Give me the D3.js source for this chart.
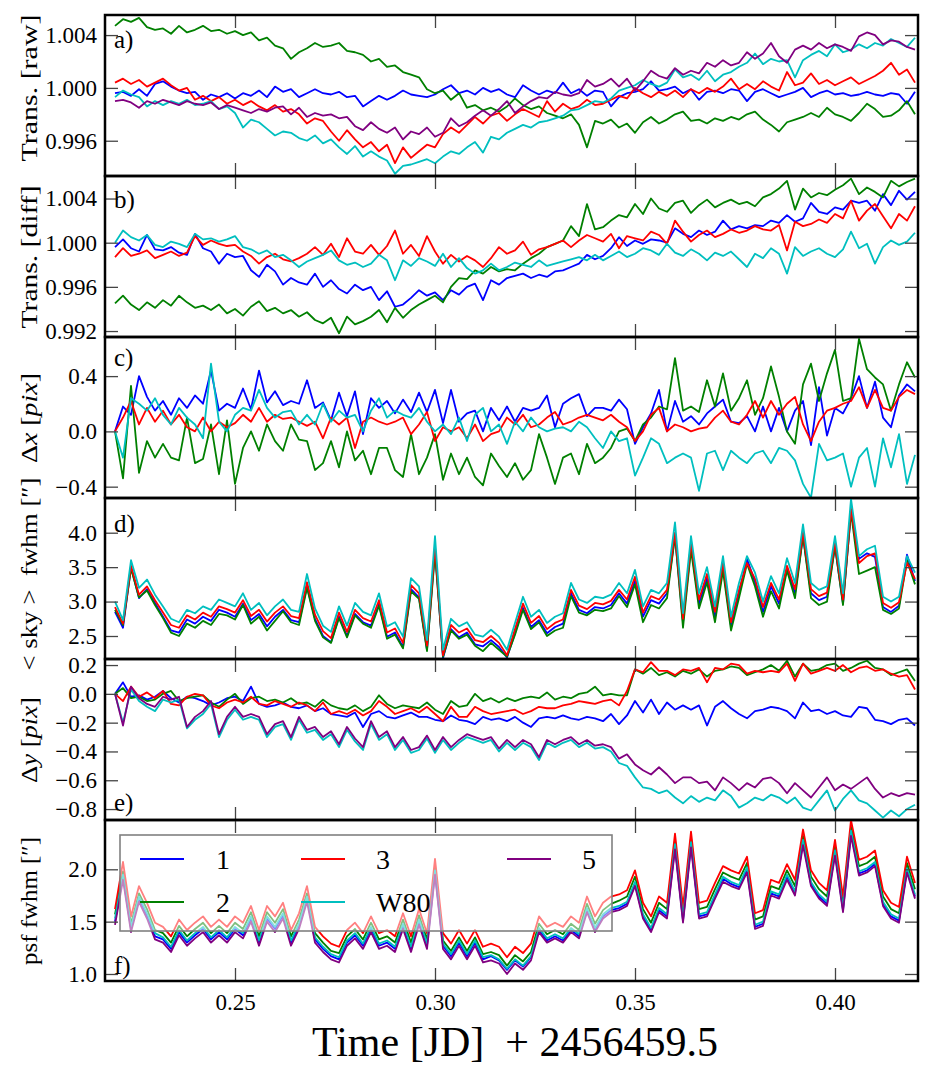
<!DOCTYPE html>
<html><head><meta charset="utf-8">
<script src="https://cdn.jsdelivr.net/npm/d3@7/dist/d3.min.js"></script>
<style>body{margin:0;background:#fff} text{font-family:"Liberation Serif","DejaVu Serif",serif;white-space:pre}</style>
</head><body><svg id="c" width="934" height="1080"></svg>
<script>
// ---------- data ----------
const time = [0.220,0.222,0.224,0.226,0.228,0.230,0.232,0.234,0.236,0.238,
0.240,0.242,0.244,0.246,0.248,0.250,0.252,0.254,0.256,0.258,
0.260,0.262,0.264,0.266,0.268,0.270,0.272,0.274,0.276,0.278,
0.280,0.282,0.284,0.286,0.288,0.290,0.292,0.294,0.296,0.298,
0.300,0.302,0.304,0.306,0.308,0.310,0.312,0.314,0.316,0.318,
0.320,0.322,0.324,0.326,0.328,0.330,0.332,0.334,0.336,0.338,
0.340,0.342,0.344,0.346,0.348,0.350,0.352,0.354,0.356,0.358,
0.360,0.362,0.364,0.366,0.368,0.370,0.372,0.374,0.376,0.378,
0.380,0.382,0.384,0.386,0.388,0.390,0.392,0.394,0.396,0.398,
0.400,0.402,0.404,0.406,0.408,0.410,0.412,0.414,0.416,0.418,
0.420];
const timeDomain = [0.2175, 0.42075];
const timeTicks = [0.25, 0.30, 0.35, 0.40];

// a) Trans. [raw]
const raw1 = [0.9996,0.9997,0.9994,0.9999,0.9994,1.0003,1.0005,1.0001,0.9998,0.9996,
0.9997,0.9991,0.9995,0.9993,0.9996,0.9992,0.9996,0.9994,0.9998,0.9993,
1.0001,0.9997,0.9999,0.9993,0.9996,0.9999,0.9996,0.9995,0.9997,0.9993,
0.9994,0.9986,0.9990,0.9994,0.9991,0.9994,0.9998,0.9995,0.9994,0.9993,
0.9995,0.9999,1.0002,0.9996,0.9998,0.9995,1.0000,0.9997,0.9999,0.9995,
0.9993,1.0002,0.9998,0.9995,0.9998,0.9996,1.0004,0.9996,0.9999,0.9994,
0.9998,0.9997,0.9986,0.9993,0.9996,0.9997,0.9999,1.0005,0.9998,0.9999,
1.0001,0.9996,0.9999,0.9991,0.9997,0.9998,0.9996,0.9999,0.9998,0.9990,
0.9997,0.9999,0.9996,0.9993,0.9995,0.9997,1.0000,0.9993,0.9996,0.9998,
0.9995,0.9996,0.9994,0.9995,0.9997,0.9995,0.9994,0.9996,0.9995,0.9988,
0.9997];
const raw2 = [1.0047,1.0052,1.0050,1.0053,1.0046,1.0044,1.0045,1.0041,1.0047,1.0042,
1.0044,1.0047,1.0043,1.0044,1.0041,1.0043,1.0040,1.0042,1.0036,1.0038,
1.0032,1.0030,1.0022,1.0027,1.0030,1.0034,1.0031,1.0032,1.0034,1.0028,
1.0027,1.0025,1.0020,1.0022,1.0016,1.0017,1.0012,1.0010,1.0008,0.9999,
0.9996,0.9998,0.9991,0.9996,0.9985,0.9987,0.9983,0.9985,0.9982,0.9986,
0.9992,0.9987,0.9984,0.9986,0.9981,0.9979,0.9977,0.9980,0.9972,0.9955,
0.9975,0.9973,0.9976,0.9970,0.9973,0.9966,0.9974,0.9978,0.9973,0.9976,
0.9980,0.9982,0.9975,0.9976,0.9973,0.9977,0.9975,0.9978,0.9976,0.9980,
0.9982,0.9976,0.9972,0.9967,0.9974,0.9976,0.9978,0.9981,0.9978,0.9985,
0.9980,0.9978,0.9975,0.9981,0.9988,0.9984,0.9978,0.9979,0.9983,0.9990,
0.9980];
const raw3 = [1.0004,1.0007,1.0003,1.0006,1.0001,1.0004,1.0007,1.0002,0.9998,1.0000,
0.9991,0.9994,0.9990,0.9993,0.9988,0.9991,0.9987,0.9990,0.9986,0.9983,
0.9987,0.9982,0.9984,0.9980,0.9973,0.9977,0.9975,0.9967,0.9960,0.9968,
0.9961,0.9955,0.9959,0.9952,0.9957,0.9943,0.9955,0.9947,0.9952,0.9957,
0.9955,0.9965,0.9970,0.9966,0.9972,0.9978,0.9973,0.9979,0.9981,0.9975,
0.9980,0.9984,0.9981,0.9978,0.9990,0.9982,0.9988,0.9984,0.9986,0.9991,
0.9987,0.9988,0.9991,0.9994,0.9992,1.0000,0.9996,0.9993,0.9997,0.9994,
0.9998,0.9993,0.9999,0.9996,1.0000,0.9997,1.0001,1.0007,0.9999,1.0003,
0.9999,1.0005,1.0001,0.9998,1.0012,1.0002,1.0004,1.0011,1.0003,1.0006,
1.0002,1.0005,1.0008,1.0003,1.0006,1.0009,1.0013,1.0019,1.0010,1.0014,
1.0004];
const raw5 = [0.9990,0.9991,0.9989,0.9985,0.9990,0.9988,0.9991,0.9989,0.9987,0.9990,
0.9988,0.9987,0.9989,0.9984,0.9987,0.9985,0.9983,0.9981,0.9984,0.9982,
0.9985,0.9986,0.9980,0.9985,0.9978,0.9981,0.9979,0.9980,0.9977,0.9978,
0.9971,0.9968,0.9974,0.9969,0.9966,0.9970,0.9961,0.9967,0.9965,0.9970,
0.9963,0.9966,0.9977,0.9971,0.9974,0.9979,0.9983,0.9979,0.9984,0.9990,
0.9981,0.9986,0.9990,0.9993,0.9992,0.9997,0.9995,0.9994,0.9996,1.0006,
1.0001,1.0003,1.0007,1.0001,1.0007,0.9998,1.0005,1.0013,1.0009,1.0007,
1.0015,1.0010,1.0013,1.0011,1.0019,1.0016,1.0021,1.0017,1.0019,1.0027,
1.0022,1.0026,1.0034,1.0024,1.0019,1.0029,1.0032,1.0029,1.0034,1.0030,
1.0033,1.0031,1.0028,1.0039,1.0042,1.0040,1.0033,1.0036,1.0035,1.0031,
1.0029];
const rawW80 = [0.9993,0.9998,0.9995,0.9993,0.9986,0.9990,0.9987,0.9990,0.9988,0.9991,
0.9987,0.9988,0.9990,0.9984,0.9986,0.9981,0.9970,0.9976,0.9974,0.9969,
0.9964,0.9967,0.9966,0.9962,0.9960,0.9964,0.9958,0.9961,0.9955,0.9950,
0.9956,0.9948,0.9952,0.9948,0.9945,0.9935,0.9941,0.9942,0.9944,0.9946,
0.9943,0.9948,0.9952,0.9950,0.9955,0.9959,0.9951,0.9963,0.9961,0.9966,
0.9969,0.9972,0.9970,0.9974,0.9975,0.9977,0.9979,0.9983,0.9984,0.9987,
0.9990,0.9989,0.9992,0.9998,1.0000,1.0002,1.0006,1.0003,1.0001,1.0004,
1.0014,1.0008,1.0010,1.0006,1.0013,1.0005,1.0010,1.0012,1.0016,1.0019,
1.0026,1.0018,1.0022,1.0020,1.0021,1.0008,1.0021,1.0025,1.0028,1.0024,
1.0033,1.0027,1.0029,1.0033,1.0030,1.0034,1.0032,1.0037,1.0034,1.0031,
1.0038];

// b) Trans. [diff]
const diff1 = [0.9996,1.0003,0.9995,0.9992,1.0007,0.9994,0.9993,0.9996,0.9991,0.9989,
1.0008,0.9995,0.9992,0.9981,0.9990,0.9987,0.9988,0.9975,0.9969,0.9980,
0.9974,0.9962,0.9968,0.9964,0.9962,0.9972,0.9960,0.9966,0.9958,0.9954,
0.9962,0.9957,0.9960,0.9948,0.9956,0.9942,0.9944,0.9950,0.9957,0.9952,
0.9955,0.9948,0.9957,0.9953,0.9960,0.9963,0.9948,0.9966,0.9962,0.9968,
0.9970,0.9972,0.9968,0.9971,0.9969,0.9974,0.9975,0.9978,0.9981,0.9989,
0.9985,0.9988,0.9995,1.0005,0.9997,1.0002,0.9999,1.0003,1.0002,1.0000,
1.0013,1.0008,1.0005,1.0011,1.0007,1.0010,1.0020,1.0012,1.0015,1.0013,
1.0016,1.0015,1.0020,1.0018,1.0025,1.0019,1.0022,1.0036,1.0028,1.0026,
1.0032,1.0030,1.0038,1.0036,1.0038,1.0029,1.0044,1.0034,1.0047,1.0039,
1.0046];
const diff2 = [0.9945,0.9952,0.9944,0.9939,0.9946,0.9941,0.9948,0.9943,0.9952,0.9946,
0.9941,0.9943,0.9939,0.9944,0.9936,0.9940,0.9934,0.9942,0.9947,0.9938,
0.9941,0.9936,0.9939,0.9933,0.9937,0.9930,0.9927,0.9932,0.9918,0.9933,
0.9926,0.9929,0.9933,0.9939,0.9928,0.9941,0.9932,0.9939,0.9944,0.9948,
0.9952,0.9946,0.9960,0.9968,0.9967,0.9975,0.9972,0.9978,0.9974,0.9976,
0.9975,0.9981,0.9986,0.9990,0.9996,0.9999,1.0002,1.0015,1.0006,1.0035,
1.0012,1.0014,1.0020,1.0025,1.0023,1.0035,1.0026,1.0040,1.0031,1.0028,
1.0036,1.0038,1.0027,1.0034,1.0039,1.0032,1.0036,1.0039,1.0035,1.0037,
1.0033,1.0041,1.0044,1.0049,1.0056,1.0030,1.0049,1.0041,1.0045,1.0043,
1.0048,1.0052,1.0058,1.0044,1.0050,1.0046,1.0041,1.0056,1.0051,1.0055,
1.0058];
const diff3 = [0.9987,0.9995,0.9988,0.9990,0.9993,0.9986,0.9989,0.9992,0.9988,0.9991,
1.0006,0.9998,1.0002,0.9999,0.9997,0.9998,0.9992,0.9988,0.9981,0.9987,
0.9990,0.9985,0.9983,0.9986,0.9990,0.9996,0.9989,0.9999,0.9987,1.0004,
0.9992,0.9990,0.9998,0.9989,0.9997,1.0011,0.9990,0.9998,0.9988,1.0006,
0.9992,0.9981,0.9989,0.9983,0.9988,0.9984,0.9978,0.9986,0.9996,0.9990,
0.9993,1.0001,0.9989,0.9994,0.9996,0.9999,1.0002,0.9996,1.0002,1.0007,
1.0004,1.0001,1.0008,0.9995,1.0006,1.0004,1.0002,1.0010,1.0007,0.9999,
1.0020,1.0010,1.0001,1.0007,1.0011,1.0005,1.0008,1.0012,1.0009,1.0011,
1.0015,1.0012,1.0011,1.0016,0.9993,1.0019,1.0015,1.0017,1.0021,1.0018,
1.0026,1.0022,1.0038,1.0020,1.0029,1.0035,1.0024,1.0013,1.0026,1.0020,
1.0033];
const diffW80 = [1.0000,1.0011,1.0005,1.0002,1.0007,0.9998,0.9996,1.0001,0.9999,0.9996,
1.0008,1.0003,1.0004,1.0001,1.0003,1.0006,0.9996,0.9994,0.9990,0.9993,
0.9987,0.9989,0.9984,0.9978,0.9983,0.9986,0.9989,0.9993,0.9984,0.9980,
0.9982,0.9978,0.9981,0.9989,0.9984,0.9966,0.9984,0.9979,0.9986,0.9983,
0.9979,0.9990,0.9978,0.9986,0.9977,0.9972,0.9975,0.9981,0.9975,0.9978,
0.9982,0.9980,0.9978,0.9984,0.9979,0.9981,0.9983,0.9985,0.9987,0.9984,
0.9989,0.9984,0.9988,0.9992,0.9987,0.9990,0.9995,0.9993,0.9989,0.9999,
0.9991,0.9988,0.9994,0.9990,0.9984,0.9991,0.9988,0.9992,0.9985,0.9978,
0.9990,0.9986,0.9995,0.9990,0.9972,0.9996,0.9988,0.9992,0.9995,0.9990,
0.9987,0.9994,1.0010,0.9995,0.9999,0.9981,0.9996,1.0002,0.9998,1.0001,
1.0009];

// c) Delta x [pix]
const dx1 = [0.00,0.18,0.12,0.40,0.25,0.15,0.22,0.12,0.24,0.17,
0.26,0.20,0.44,0.15,0.20,0.17,0.31,0.16,0.44,0.21,
0.29,0.19,0.22,0.20,0.37,0.17,0.21,0.08,0.28,0.11,
0.29,-0.02,0.24,0.17,0.22,0.13,0.23,0.14,0.28,0.14,
0.30,0.06,0.30,0.07,0.13,0.15,0.00,0.17,0.08,0.18,
0.07,0.17,0.15,0.17,0.26,0.03,0.20,0.24,0.27,0.11,
0.17,0.17,0.15,0.23,0.16,-0.09,0.03,0.13,0.30,0.00,
0.22,0.07,0.11,0.05,0.13,0.18,0.23,0.07,0.06,0.11,
0.00,0.18,0.00,0.17,0.00,0.15,0.22,-0.10,0.32,-0.03,
0.17,0.13,0.24,0.40,0.17,0.36,0.10,0.03,0.26,0.34,
0.29];
const dx2 = [0.00,-0.34,0.33,-0.30,-0.07,-0.19,-0.09,-0.19,-0.21,0.10,
-0.23,-0.20,0.05,-0.31,0.08,-0.38,-0.12,0.00,-0.14,0.05,
-0.07,-0.14,0.05,-0.06,-0.07,-0.28,-0.23,-0.07,-0.26,0.00,
-0.21,-0.14,-0.31,-0.12,-0.12,-0.28,-0.33,-0.02,-0.31,-0.19,
-0.02,-0.35,-0.16,-0.31,-0.19,-0.33,-0.39,-0.16,-0.25,-0.33,
-0.23,-0.35,-0.28,-0.02,-0.19,-0.38,-0.19,-0.16,-0.31,-0.09,
-0.23,-0.19,-0.12,0.00,0.02,-0.07,0.05,0.10,0.18,0.16,
0.53,0.15,0.18,0.14,0.37,0.18,0.42,0.15,0.24,0.37,
0.12,0.24,0.47,0.25,0.00,-0.09,0.34,0.49,0.22,0.42,
0.59,0.22,0.24,0.67,0.45,0.39,0.34,0.15,0.34,0.50,
0.39];
const dx3 = [0.00,0.10,0.22,0.05,0.17,0.07,0.15,0.05,0.12,0.03,
0.00,0.10,0.00,0.07,0.03,0.06,0.12,0.07,0.17,0.07,
0.12,0.09,0.10,0.07,0.04,0.07,-0.05,0.10,0.05,0.10,
-0.12,0.07,0.10,0.07,0.05,0.07,0.10,-0.02,0.05,0.14,
-0.07,0.03,0.00,0.03,-0.05,0.05,-0.07,-0.02,0.00,0.10,
0.05,0.12,0.03,0.05,0.10,0.14,0.05,0.07,0.10,0.12,
0.10,0.08,0.12,0.07,0.03,-0.07,0.00,0.12,0.17,0.00,
0.05,0.03,0.00,0.02,0.03,0.10,0.15,0.07,0.05,0.12,
0.22,0.10,0.22,0.12,0.20,0.25,0.05,-0.07,0.07,0.15,
0.17,0.20,0.22,0.32,0.17,0.30,0.17,0.15,0.25,0.30,
0.27];
const dxW80 = [0.00,-0.19,0.24,0.20,0.15,0.24,0.12,0.05,0.17,0.10,
0.05,-0.05,0.49,0.07,0.00,0.12,0.17,0.15,0.30,0.17,
0.10,0.14,0.15,0.05,0.12,0.05,0.20,0.07,0.15,0.10,
0.12,0.00,0.15,0.24,0.10,0.15,0.12,0.10,0.17,0.07,
0.00,0.05,-0.02,0.10,-0.07,0.12,0.17,0.00,0.05,-0.09,
0.07,0.00,0.10,0.03,0.00,0.02,0.03,0.00,0.07,0.03,
-0.05,-0.12,0.00,-0.07,-0.05,-0.32,-0.19,-0.05,-0.09,-0.23,
-0.19,-0.16,-0.19,-0.43,-0.16,-0.14,-0.28,-0.14,-0.19,-0.23,
-0.16,-0.14,-0.23,-0.12,-0.14,-0.21,-0.38,-0.48,-0.09,-0.21,
-0.19,-0.16,-0.40,-0.19,-0.12,-0.40,-0.05,-0.26,-0.02,-0.38,
-0.17];

// d) <sky> fwhm
const sky1 = [2.85,2.62,3.50,3.05,3.18,2.98,2.78,2.58,2.55,2.74,
2.68,2.78,2.72,2.88,2.84,2.78,2.97,2.73,2.82,2.64,
2.78,2.88,2.73,2.70,3.22,2.75,2.50,2.41,2.78,2.50,
2.82,2.70,2.65,2.96,2.49,2.55,2.34,3.18,3.06,2.30,
3.75,2.18,2.60,2.48,2.55,2.38,2.35,2.44,2.34,2.19,
2.54,2.91,2.63,2.73,2.54,2.63,2.68,3.12,2.88,2.83,
2.92,2.90,2.95,3.12,2.97,3.30,2.78,3.02,2.97,3.12,
3.95,2.70,3.80,2.97,3.34,2.78,3.50,2.64,3.12,3.62,
3.28,2.85,3.22,2.97,3.48,3.12,3.95,3.12,3.02,3.07,
3.80,2.97,4.30,3.62,3.70,3.65,2.92,2.85,2.94,3.68,
3.30];
const sky2 = [2.88,2.66,3.48,3.06,3.16,2.95,2.76,2.55,2.50,2.68,
2.62,2.72,2.66,2.82,2.80,2.74,2.95,2.68,2.78,2.58,
2.72,2.86,2.70,2.66,3.20,2.72,2.48,2.40,2.76,2.48,
2.80,2.68,2.62,2.94,2.46,2.52,2.32,3.15,3.04,2.28,
3.70,2.20,2.58,2.46,2.52,2.36,2.28,2.40,2.30,2.20,
2.52,2.88,2.60,2.70,2.50,2.58,2.62,3.08,2.84,2.80,
2.88,2.86,2.90,3.08,2.92,3.25,2.70,2.95,2.90,3.05,
3.95,2.62,3.75,2.90,3.28,2.70,3.45,2.58,3.05,3.55,
3.22,2.78,3.15,2.90,3.45,3.05,3.95,3.05,2.95,3.00,
3.80,2.95,4.30,3.40,3.45,3.50,2.88,2.82,2.90,3.60,
3.25];
const sky3 = [2.92,2.68,3.52,3.10,3.22,3.02,2.84,2.66,2.62,2.80,
2.74,2.84,2.78,2.93,2.89,2.84,3.02,2.79,2.88,2.71,
2.84,2.93,2.79,2.76,3.28,2.81,2.57,2.47,2.84,2.56,
2.88,2.76,2.71,3.02,2.55,2.61,2.40,3.24,3.12,2.36,
3.80,2.22,2.66,2.55,2.61,2.44,2.41,2.50,2.40,2.22,
2.60,2.97,2.69,2.79,2.60,2.69,2.74,3.17,2.94,2.89,
2.98,2.96,3.01,3.17,3.03,3.36,2.84,3.08,3.03,3.17,
4.00,2.75,3.85,3.03,3.40,2.85,3.56,2.70,3.17,3.56,
3.33,2.92,3.27,3.03,3.52,3.18,4.00,3.18,3.08,3.13,
3.85,3.03,4.35,3.56,3.66,3.70,2.98,2.91,2.99,3.56,
3.33];
const skyW80 = [3.00,2.73,3.60,3.20,3.32,3.10,2.93,2.75,2.70,2.88,
2.83,2.93,2.88,3.03,2.98,2.93,3.12,2.88,2.98,2.80,
2.93,3.03,2.88,2.85,3.40,2.90,2.65,2.56,2.93,2.65,
2.98,2.85,2.80,3.12,2.64,2.70,2.49,3.34,3.22,2.44,
3.95,2.30,2.75,2.64,2.70,2.52,2.49,2.59,2.49,2.30,
2.69,3.07,2.78,2.88,2.69,2.78,2.83,3.27,3.03,2.98,
3.07,3.05,3.10,3.27,3.12,3.46,2.93,3.17,3.12,3.27,
4.15,2.83,3.95,3.12,3.50,2.93,3.66,2.78,3.27,3.66,
3.42,3.00,3.37,3.12,3.63,3.27,4.12,3.27,3.17,3.22,
3.95,3.12,4.49,3.66,3.76,3.81,3.07,3.00,3.07,3.66,
3.42];

// e) Delta y [pix]
const dy1 = [0.00,0.08,-0.02,-0.01,-0.04,-0.02,0.02,-0.03,-0.06,-0.02,
-0.03,-0.05,-0.08,-0.06,-0.03,-0.02,-0.05,0.05,-0.07,-0.09,
-0.08,-0.06,-0.09,-0.10,-0.08,-0.12,-0.10,-0.14,-0.15,-0.16,
-0.13,-0.23,-0.14,-0.12,-0.16,-0.17,-0.15,-0.13,-0.16,-0.16,
-0.18,-0.19,-0.15,-0.18,-0.19,-0.21,-0.16,-0.18,-0.17,-0.19,
-0.16,-0.20,-0.23,-0.17,-0.16,-0.17,-0.15,-0.17,-0.18,-0.16,
-0.17,-0.19,-0.14,-0.21,-0.15,-0.05,-0.13,-0.04,-0.14,-0.06,
-0.11,-0.08,-0.11,-0.08,-0.22,-0.09,-0.05,-0.10,-0.14,-0.17,
-0.12,-0.11,-0.09,-0.10,-0.12,-0.17,-0.06,-0.12,-0.11,-0.14,
-0.12,-0.15,-0.16,-0.09,-0.10,-0.18,-0.19,-0.21,-0.18,-0.17,
-0.22];
const dy2 = [0.00,0.04,-0.03,-0.02,-0.05,-0.04,0.00,0.02,-0.05,-0.03,
-0.02,-0.01,-0.06,-0.09,-0.04,0.00,-0.07,-0.03,-0.02,-0.05,
-0.04,-0.06,-0.03,-0.07,-0.06,-0.09,-0.04,-0.08,-0.10,-0.11,
-0.08,-0.12,-0.09,-0.01,-0.07,-0.10,-0.08,-0.09,-0.10,-0.06,
-0.11,-0.14,-0.05,-0.09,-0.08,0.00,-0.05,-0.03,-0.06,-0.03,
-0.05,-0.03,-0.02,-0.03,0.01,-0.04,-0.02,-0.03,0.00,0.01,
0.05,-0.01,0.00,-0.01,-0.01,0.17,0.14,0.18,0.13,0.15,
0.12,0.16,0.14,0.17,0.12,0.16,0.17,0.19,0.18,0.13,
0.15,0.17,0.20,0.16,0.23,0.12,0.21,0.16,0.17,0.20,
0.21,0.16,0.18,0.21,0.23,0.18,0.17,0.13,0.15,0.17,
0.09];
const dy3 = [0.00,-0.05,0.05,-0.02,0.01,-0.03,0.02,-0.07,-0.08,-0.02,
0.00,-0.01,-0.08,-0.10,-0.06,-0.04,-0.06,-0.02,-0.07,-0.08,
-0.05,-0.07,-0.09,-0.06,-0.08,-0.12,-0.06,-0.14,-0.12,-0.14,
-0.11,-0.15,-0.12,-0.05,-0.09,-0.14,-0.12,-0.10,-0.13,-0.09,
-0.14,-0.19,-0.09,-0.16,-0.16,-0.09,-0.12,-0.14,-0.13,-0.12,
-0.11,-0.14,-0.12,-0.09,-0.10,-0.10,-0.08,-0.07,-0.05,-0.06,
-0.07,-0.05,-0.04,-0.08,0.02,0.17,0.15,0.22,0.16,0.16,
0.13,0.17,0.16,0.18,0.08,0.18,0.17,0.21,0.20,0.14,
0.16,0.15,0.16,0.15,0.21,0.09,0.21,0.14,0.16,0.18,
0.16,0.20,0.15,0.18,0.19,0.16,0.17,0.14,0.12,0.13,
0.03];
const dy5 = [0.00,-0.22,0.05,-0.03,-0.07,-0.09,-0.02,-0.04,-0.02,-0.23,
-0.16,-0.12,-0.05,-0.28,-0.16,-0.09,-0.16,-0.14,-0.16,-0.28,
-0.21,-0.19,-0.30,-0.16,-0.25,-0.23,-0.30,-0.26,-0.35,-0.23,
-0.31,-0.37,-0.19,-0.30,-0.26,-0.37,-0.30,-0.39,-0.37,-0.29,
-0.39,-0.30,-0.37,-0.32,-0.28,-0.30,-0.32,-0.30,-0.38,-0.32,
-0.37,-0.32,-0.35,-0.44,-0.32,-0.35,-0.32,-0.30,-0.35,-0.32,
-0.36,-0.35,-0.37,-0.45,-0.42,-0.49,-0.53,-0.56,-0.51,-0.56,
-0.62,-0.58,-0.58,-0.62,-0.61,-0.67,-0.58,-0.62,-0.67,-0.62,
-0.65,-0.59,-0.58,-0.62,-0.69,-0.62,-0.67,-0.72,-0.65,-0.58,
-0.67,-0.63,-0.66,-0.62,-0.58,-0.66,-0.72,-0.69,-0.71,-0.69,
-0.70];
const dyW80 = [0.00,-0.20,0.03,-0.05,-0.09,-0.12,-0.04,-0.06,-0.04,-0.24,
-0.18,-0.14,-0.07,-0.30,-0.18,-0.11,-0.18,-0.16,-0.18,-0.30,
-0.23,-0.21,-0.32,-0.18,-0.27,-0.25,-0.32,-0.28,-0.37,-0.25,
-0.33,-0.39,-0.21,-0.32,-0.28,-0.39,-0.32,-0.41,-0.39,-0.31,
-0.41,-0.32,-0.39,-0.34,-0.30,-0.32,-0.34,-0.32,-0.40,-0.34,
-0.39,-0.34,-0.37,-0.46,-0.34,-0.37,-0.34,-0.32,-0.37,-0.34,
-0.38,-0.37,-0.40,-0.48,-0.50,-0.58,-0.65,-0.66,-0.69,-0.67,
-0.72,-0.76,-0.71,-0.75,-0.72,-0.74,-0.67,-0.71,-0.79,-0.76,
-0.72,-0.74,-0.70,-0.72,-0.76,-0.72,-0.79,-0.81,-0.74,-0.67,
-0.81,-0.73,-0.67,-0.74,-0.76,-0.81,-0.86,-0.81,-0.85,-0.80,
-0.77];

// f) psf fwhm
const psf1 = [1.50,1.93,1.43,1.72,1.56,1.36,1.33,1.24,1.40,1.30,
1.37,1.43,1.33,1.40,1.33,1.43,1.37,1.53,1.30,1.53,
1.43,1.56,1.30,1.46,1.72,1.33,1.24,1.17,1.14,1.30,
1.37,1.27,1.43,1.27,1.30,1.24,1.46,1.24,1.50,1.27,
1.97,1.27,1.17,1.30,1.17,1.30,1.14,1.17,1.13,1.04,
1.13,1.07,1.16,1.42,1.32,1.36,1.32,1.42,1.36,1.61,
1.42,1.55,1.61,1.63,1.67,1.86,1.55,1.42,1.61,1.55,
2.22,1.51,2.24,1.55,1.57,1.74,1.91,1.86,1.83,2.00,
1.45,1.48,1.77,1.74,1.93,1.77,2.26,1.86,1.74,1.67,
2.16,1.61,2.35,1.96,1.99,2.05,1.67,1.55,1.51,1.99,
1.74];
const psf2 = [1.57,1.98,1.48,1.77,1.62,1.42,1.39,1.30,1.46,1.36,
1.43,1.49,1.39,1.46,1.39,1.49,1.43,1.59,1.36,1.59,
1.49,1.62,1.36,1.52,1.77,1.39,1.30,1.22,1.20,1.36,
1.43,1.33,1.49,1.33,1.36,1.30,1.52,1.30,1.56,1.33,
2.02,1.32,1.22,1.35,1.22,1.35,1.19,1.21,1.18,1.08,
1.18,1.12,1.21,1.48,1.38,1.42,1.38,1.48,1.42,1.67,
1.48,1.61,1.67,1.70,1.74,1.93,1.62,1.49,1.68,1.62,
2.28,1.58,2.30,1.62,1.64,1.81,1.97,1.93,1.90,2.06,
1.52,1.55,1.84,1.81,1.99,1.84,2.32,1.93,1.81,1.74,
2.22,1.68,2.41,2.03,2.06,2.12,1.74,1.62,1.58,2.06,
1.81];
const psf3 = [1.62,2.07,1.55,1.84,1.68,1.49,1.45,1.36,1.52,1.42,
1.49,1.55,1.45,1.52,1.45,1.55,1.49,1.65,1.42,1.65,
1.55,1.68,1.42,1.58,1.84,1.45,1.36,1.29,1.26,1.42,
1.49,1.39,1.55,1.39,1.42,1.36,1.58,1.36,1.62,1.39,
2.10,1.39,1.29,1.42,1.29,1.42,1.26,1.29,1.26,1.16,
1.26,1.20,1.29,1.55,1.45,1.49,1.45,1.55,1.49,1.74,
1.55,1.68,1.74,1.76,1.80,1.99,1.68,1.55,1.74,1.68,
2.34,1.64,2.36,1.68,1.70,1.87,2.03,1.99,1.96,2.12,
1.58,1.61,1.90,1.87,2.05,1.90,2.38,1.99,1.87,1.80,
2.28,1.74,2.47,2.09,2.12,2.18,1.80,1.68,1.64,2.12,
1.87];
const psf5 = [1.47,1.90,1.40,1.69,1.53,1.33,1.30,1.21,1.37,1.27,
1.34,1.40,1.30,1.37,1.30,1.40,1.34,1.50,1.27,1.50,
1.40,1.53,1.27,1.43,1.69,1.30,1.21,1.14,1.11,1.27,
1.34,1.24,1.40,1.24,1.27,1.21,1.43,1.21,1.47,1.24,
1.95,1.24,1.14,1.27,1.14,1.27,1.11,1.13,1.10,1.00,
1.10,1.04,1.13,1.40,1.30,1.34,1.30,1.40,1.34,1.59,
1.40,1.53,1.59,1.61,1.65,1.84,1.53,1.40,1.59,1.53,
2.19,1.49,2.21,1.53,1.55,1.72,1.88,1.84,1.81,1.97,
1.43,1.46,1.75,1.72,1.90,1.75,2.23,1.84,1.72,1.65,
2.13,1.59,2.32,1.94,1.97,2.03,1.65,1.53,1.49,1.97,
1.72];
const psfW80 = [1.53,1.95,1.45,1.74,1.58,1.39,1.35,1.26,1.42,1.32,
1.39,1.45,1.35,1.42,1.35,1.45,1.39,1.55,1.32,1.55,
1.45,1.58,1.32,1.48,1.74,1.35,1.26,1.19,1.16,1.32,
1.39,1.29,1.45,1.29,1.32,1.26,1.48,1.26,1.52,1.29,
1.99,1.29,1.19,1.32,1.19,1.32,1.16,1.18,1.14,1.05,
1.14,1.08,1.17,1.44,1.34,1.38,1.34,1.44,1.38,1.63,
1.44,1.57,1.63,1.65,1.69,1.88,1.57,1.44,1.63,1.57,
2.24,1.53,2.26,1.57,1.59,1.76,1.93,1.88,1.85,2.02,
1.47,1.50,1.79,1.76,1.95,1.79,2.28,1.88,1.76,1.69,
2.18,1.63,2.37,1.98,2.01,2.07,1.69,1.57,1.53,2.01,
1.76];

// axis domains and tick values
const domRaw = [0.99333, 1.00552], ticksRaw = [0.996, 1.000, 1.004];
const domDiff = [0.99146, 1.00604], ticksDiff = [0.992, 0.996, 1.000, 1.004];
const domDx = [-0.482, 0.683], ticksDx = [-0.4, 0.0, 0.4];
const domSky = [2.166, 4.504], ticksSky = [2.5, 3.0, 3.5, 4.0];
const domDy = [-0.876, 0.242], ticksDy = [-0.8, -0.6, -0.4, -0.2, 0.0, 0.2];
const domPsf = [0.933, 2.471], ticksPsf = [1.0, 1.5, 2.0];

const seriesOrder = ["1", "2", "3", "W80", "5"];
const seriesColors = {"1": "#0000ff", "2": "#008000", "3": "#ff0000", "W80": "#00bfbf", "5": "#800080"};
const legendRows = [["1", "3", "5"], ["2", "W80"]];

// ---------- drawing ----------
const FONT = '"Liberation Serif", "DejaVu Serif", serif';
const svg = d3.select("#c");
const X0 = 105, X1 = 918, PH = 161;
const tops = [15, 176, 337, 498, 659, 820];
const x = d3.scaleLinear().domain(timeDomain).range([X0, X1]);

const panels = [
  {tag: "a)", tagY: 48, s: {"1": raw1, "2": raw2, "3": raw3, "W80": rawW80, "5": raw5}, dom: domRaw, ticks: ticksRaw, fmt: ".3f",
   lab: [["Trans. [raw]", 0]], labLen: 147, labC: 88},
  {tag: "b)", tagY: 208, s: {"1": diff1, "2": diff2, "3": diff3, "W80": diffW80}, dom: domDiff, ticks: ticksDiff, fmt: ".3f",
   lab: [["Trans. [diff]", 0]], labLen: 143, labC: 257},
  {tag: "c)", tagY: 366, s: {"1": dx1, "2": dx2, "3": dx3, "W80": dxW80}, dom: domDx, ticks: ticksDx, fmt: ".1f",
   lab: [["Δ", 0], ["x", 1], [" [", 0], ["pix", 1], ["]", 0]], labLen: 90, labC: 418},
  {tag: "d)", tagY: 532, s: {"1": sky1, "2": sky2, "3": sky3, "W80": skyW80}, dom: domSky, ticks: ticksSky, fmt: ".1f",
   lab: [["< sky >  fwhm [″]", 0]], labLen: 193, labC: 574},
  {tag: "e)", tagY: 811, s: {"1": dy1, "2": dy2, "3": dy3, "W80": dyW80, "5": dy5}, dom: domDy, ticks: ticksDy, fmt: ".1f",
   lab: [["Δ", 0], ["y", 1], [" [", 0], ["pix", 1], ["]", 0]], labLen: 86, labC: 740},
  {tag: "f)", tagY: 974, s: {"1": psf1, "2": psf2, "3": psf3, "W80": psfW80, "5": psf5}, dom: domPsf, ticks: ticksPsf, fmt: ".1f",
   lab: [["psf fwhm [″]", 0]], labLen: 128, labC: 901}
];

const defs = svg.append("defs");

panels.forEach((p, k) => {
  const top = tops[k], bot = top + PH;
  const y = d3.scaleLinear().domain(p.dom).range([bot, top]);
  const g = svg.append("g");
  defs.append("clipPath").attr("id", "clip" + k)
    .append("rect").attr("x", X0).attr("y", top).attr("width", X1 - X0).attr("height", PH);

  const lines = g.append("g").attr("clip-path", `url(#clip${k})`);
  const line = d3.line().x((d, i) => x(time[i])).y(d => y(d));
  seriesOrder.forEach(name => {
    if (!p.s[name]) return;
    lines.append("path").datum(p.s[name])
      .attr("d", line).attr("fill", "none")
      .attr("stroke", seriesColors[name]).attr("stroke-width", 1.8)
      .attr("stroke-linejoin", "round");
  });

  // axes (inward ticks)
  const tickCol = "#444";
  const styleTicks = a => { a.select(".domain").remove(); a.selectAll("line").attr("stroke", tickCol).attr("stroke-width", 1.3);
      a.selectAll("text").attr("fill", "#000").style("font-size", "23px").style("font-family", FONT); };
  g.append("g").attr("transform", `translate(${X0},0)`)
    .call(d3.axisLeft(y).tickValues(p.ticks).tickFormat(d3.format(p.fmt)).tickSize(-13).tickPadding(8))
    .call(styleTicks);
  g.append("g").attr("transform", `translate(${X1},0)`)
    .call(d3.axisRight(y).tickValues(p.ticks).tickFormat("").tickSize(-13))
    .call(styleTicks);
  g.append("g").attr("transform", `translate(0,${top})`)
    .call(d3.axisTop(x).tickValues(timeTicks).tickFormat("").tickSize(-13))
    .call(styleTicks);
  const last = k === panels.length - 1;
  g.append("g").attr("transform", `translate(0,${bot})`)
    .call(d3.axisBottom(x).tickValues(timeTicks).tickFormat(last ? d3.format(".2f") : "").tickSize(-13).tickPadding(13))
    .call(styleTicks);

  // legend in last panel
  if (last) {
    const lg = g.append("g");
    lg.append("rect").attr("x", 120).attr("y", 835).attr("width", 492).attr("height", 96)
      .attr("fill", "#fff").attr("fill-opacity", 0.5).attr("stroke", "#808080").attr("stroke-width", 1.6);
    const colX = [[140, 216], [301, 376], [507, 582]];
    const rowY = [859, 902];
    legendRows.forEach((row, r) => row.forEach((name, c) => {
      lg.append("line").attr("x1", colX[c][0]).attr("x2", colX[c][0] + 44)
        .attr("y1", rowY[r]).attr("y2", rowY[r]).attr("stroke", seriesColors[name]).attr("stroke-width", 1.8);
      lg.append("text").attr("x", colX[c][1]).attr("y", rowY[r] + 10).style("font-size", "28px").text(name);
    }));
  }

  // frame
  g.append("rect").attr("x", X0).attr("y", top).attr("width", X1 - X0).attr("height", PH)
    .attr("fill", "none").attr("stroke", "#000").attr("stroke-width", 2.5);

  // panel tag
  g.append("text").attr("x", 114).attr("y", p.tagY).style("font-size", "25px").text(p.tag);

  // y label
  const t = svg.append("text").attr("transform", `translate(37,${p.labC}) rotate(-90)`)
    .attr("text-anchor", "middle").style("font-size", "24px")
    .attr("textLength", p.labLen).attr("lengthAdjust", "spacingAndGlyphs");
  p.lab.forEach(([s, it]) => t.append("tspan").attr("font-style", it ? "italic" : null).text(s));
});

// x label
svg.append("text").attr("x", 515).attr("y", 1056).attr("text-anchor", "middle")
  .style("font-size", "42px").text("Time [JD]  + 2456459.5");
</script>
</body></html>
